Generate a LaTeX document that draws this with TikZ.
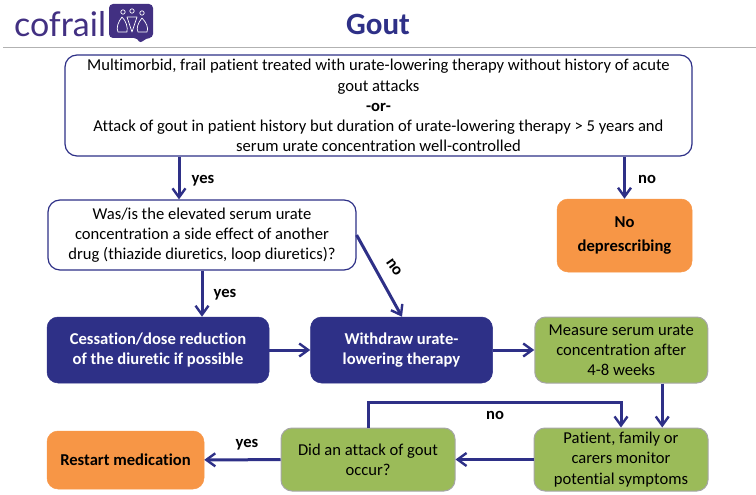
\documentclass[tikz,border=0pt]{standalone}
\usepackage{fontspec}
\setmainfont{Carlito}[Ligatures=NoCommon]
\newfontfamily\brandfont{Lato}
\usetikzlibrary{arrows.meta,positioning}
\definecolor{cNavy}{RGB}{46,48,135}
\definecolor{cLogo}{RGB}{66,48,130}
\definecolor{cGreen}{RGB}{155,187,89}
\definecolor{cOrange}{RGB}{247,150,70}
\definecolor{cBorder}{RGB}{166,166,166}
\tikzset{
	qbox/.style={draw=cNavy, line width=1.2pt, rounded corners=12pt, fill=white,
		align=center, inner sep=0pt, font=\fontsize{16.6}{20.2}\selectfont},
	actbox/.style={draw=cNavy, line width=0.5pt, rounded corners=11pt, fill=cNavy,
		text=white, align=center, inner sep=0pt,
		font=\fontsize{16.6}{20.2}\selectfont\bfseries},
	stepbox/.style={draw=cBorder, line width=1pt, rounded corners=11pt, fill=cGreen,
		align=center, inner sep=0pt, font=\fontsize{16.6}{20.2}\selectfont},
	stopbox/.style={draw=cOrange, line width=0.5pt, rounded corners=11pt, fill=cOrange,
		align=center, inner sep=0pt, font=\fontsize{16.6}{20.2}\selectfont\bfseries},
	arr/.style={-{Straight Barb[length=9pt,width=13pt,line width=2.4pt]},
		line width=3pt, draw=cNavy},
	lab/.style={font=\fontsize{16.6}{18}\selectfont\bfseries, inner sep=0pt},
	person/.style={draw=white, line width=0.7pt, line join=round},
}
\begin{document}
\begin{tikzpicture}[x=1pt, y=-1pt]
	\useasboundingbox (0,0) rectangle (756,495);
	% header
	\draw[black!30, line width=0.8pt] (3,47) -- (756,47);
	\node[text=cLogo, inner sep=0pt, font=\fontsize{34}{40}\brandfont] (brand) at (60,24) {cofrail};
	\node[text=cNavy, inner sep=0pt, font=\fontsize{31}{32}\selectfont\bfseries] (title) at (378,24) {Gout};
	% logo bubble
	\fill[cLogo, rounded corners=4pt] (109,4) -- (153,4) -- (153,38) -- (146,38) -- (140,44) -- (138,38) -- (109,38) -- cycle;
	% three figures in the bubble
	\foreach \px/\py in {123/12, 132/11, 142/13}
		\draw[person] (\px,\py) circle (2.2);
	\draw[person] (122,17) .. controls (118,22) and (116,28) .. (118,32) -- (127,32) .. controls (128,27) and (126,21) .. (122,17) -- cycle;
	\draw[person] (127,17) -- (137,17) -- (132,32) -- cycle;
	\draw[person] (142,18) .. controls (138,23) and (136,28) .. (138,32) -- (147,32) .. controls (149,28) and (146,22) .. (142,18) -- cycle;
	% boxes
	\node[qbox, minimum width=627pt, minimum height=101pt] (top) at (378.5,105.5)
		{Multimorbid, frail patient treated with urate-lowering therapy without history of acute\\
		gout attacks\\
		\textbf{-or-}\\
		Attack of gout in patient history but duration of urate-lowering therapy > 5 years and\\
		serum urate concentration well-controlled};
	\node[qbox, minimum width=308pt, minimum height=70pt] (question) at (202,235)
		{Was/is the elevated serum urate\\concentration a side effect of another\\drug (thiazide diuretics, loop diuretics)?};
	\node[stopbox, minimum width=135pt, minimum height=73pt] (nodep) at (624.5,235.5) {No\\[3pt]deprescribing};
	\node[actbox, minimum width=222pt, minimum height=66pt] (cessation) at (158,350)
		{Cessation/dose reduction\\of the diuretic if possible};
	\node[actbox, minimum width=182pt, minimum height=66pt, right=41pt of cessation] (withdraw)
		{Withdraw urate-\\lowering therapy};
	\node[stepbox, minimum width=173pt, minimum height=66pt, right=41.5pt of withdraw] (measure)
		{Measure serum urate\\concentration after\\4-8 weeks};
	\node[stepbox, minimum width=174pt, minimum height=63pt] (monitor) at (621,459.5)
		{Patient, family or\\carers monitor\\potential symptoms};
	\node[stepbox, minimum width=174pt, minimum height=63pt, left=78pt of monitor] (attack)
		{Did an attack of gout\\occur?};
	\node[stopbox, minimum width=157pt, minimum height=58pt] (restart) at (125.5,460) {Restart medication};
	% connectors
	\draw[arr] ([xshift=-23pt]question.north |- top.south) -- ([xshift=-23pt]question.north);
	\draw[arr] (nodep.north |- top.south) -- (nodep.north);
	\draw[arr] (question.south) -- (question.south |- cessation.north);
	\draw[arr] (question.east) -- ([xshift=0.5pt]withdraw.north);
	\draw[arr] (cessation) -- (withdraw);
	\draw[arr] (withdraw) -- (measure);
	\draw[arr] ([xshift=41pt]measure.south) -- ([xshift=41pt]measure.south |- monitor.north);
	\draw[arr] (monitor) -- (attack);
	\draw[arr] (attack.north) -- ++(0,-25) -| (monitor.north);
	\draw[arr] (attack) -- (restart);
	% branch labels
	\node[lab] (yesa) at (203,181) {yes};
	\node[lab] (noa) at (647,179) {no};
	\node[lab] (yesb) at (225,295) {yes};
	\node[lab, rotate=-55] (nob) at (394,267) {no};
	\node[lab] (noc) at (495,415) {no};
	\node[lab] (yesc) at (247,445) {yes};
\end{tikzpicture}
\end{document}
